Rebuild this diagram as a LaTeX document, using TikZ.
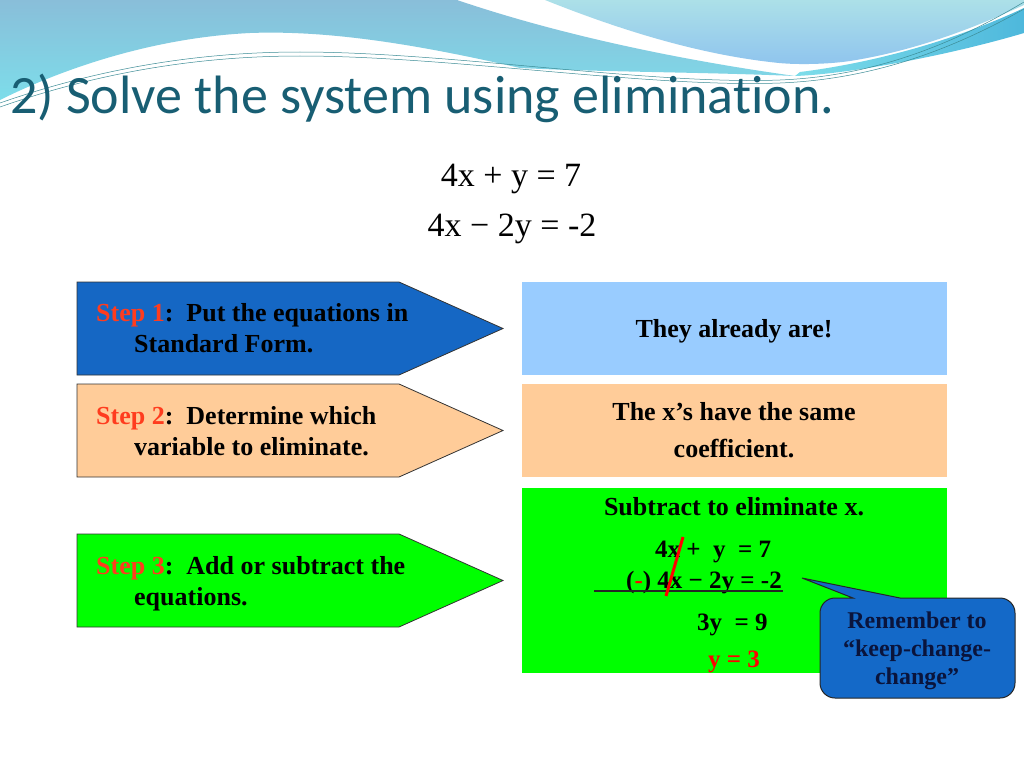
\documentclass[tikz,border=0pt]{standalone}
\usepackage{fontspec}
\setmainfont{Liberation Serif}
\newfontfamily\titlefont{Carlito}[Ligatures=NoCommon]
\definecolor{bgtop}{RGB}{137,190,217}
\definecolor{bgbot}{RGB}{125,221,234}
\definecolor{rtop}{RGB}{172,224,232}
\definecolor{rbot}{RGB}{143,196,238}
\definecolor{ribbonA}{RGB}{125,221,234}
\definecolor{ribbonB}{RGB}{78,184,220}
\definecolor{thinln}{RGB}{60,140,150}
\definecolor{titlecol}{RGB}{24,94,115}
\definecolor{stepblue}{RGB}{21,103,196}
\definecolor{peach}{RGB}{255,204,153}
\definecolor{lightblue}{RGB}{153,204,255}
\definecolor{brightgreen}{RGB}{0,255,0}
\definecolor{stepred}{RGB}{255,60,30}
\definecolor{callblue}{RGB}{20,105,200}
\definecolor{calltext}{RGB}{10,20,60}
\begin{document}
\begin{tikzpicture}[x=1pt,y=-1pt,
  stepshape/.style={draw=black!80, line width=0.8pt},
  steptext/.style={anchor=base west, inner sep=0pt, font=\fontsize{26}{30}\selectfont\bfseries},
  boxtext/.style={anchor=base, inner sep=0pt, font=\fontsize{26}{30}\selectfont\bfseries},
  eqtext/.style={anchor=base west, inner sep=0pt, font=\fontsize{25}{30}\selectfont\bfseries},
  calltxt/.style={anchor=base, inner sep=0pt, text=calltext, font=\fontsize{24}{28}\selectfont\bfseries},
  thinline/.style={draw=thinln, line width=0.5pt}]
\useasboundingbox (0,0) rectangle (1024,768);
\fill[white] (0,0) rectangle (1024,768);
% background swooshes
\shade[top color=bgtop, bottom color=bgbot] (0,0) -- (457,0) .. controls (560,35) and (680,60) .. (795,76) .. controls (700,72) and (600,72) .. (520,68) .. controls (420,45) and (330,30) .. (250,33) .. controls (150,38) and (60,70) .. (0,100) -- cycle;
\shade[top color=rtop, bottom color=rbot] (545,0) .. controls (620,30) and (700,55) .. (779,63) .. controls (800,65) and (830,64) .. (850,61) .. controls (920,50) and (980,25) .. (1024,5) -- (1024,0) -- cycle;
\shade[left color=ribbonA, right color=ribbonB] (795,76) .. controls (850,74) and (950,55) .. (1024,33) -- (1024,8) .. controls (960,38) and (880,62) .. (800,72) -- cycle;
\draw[thinline] (0,103) .. controls (80,75) and (180,52) .. (300,52) .. controls (450,52) and (650,85) .. (780,80) .. controls (880,76) and (960,40) .. (1024,2);
\draw[thinline] (0,107) .. controls (80,79) and (180,56) .. (300,56) .. controls (450,56) and (650,88) .. (780,83) .. controls (880,79) and (960,45) .. (1024,9);
% title
\node[anchor=base west, inner sep=0pt, text=titlecol, font=\titlefont\fontsize{54}{60}\selectfont] (title) at (10,113) {2) Solve the system using elimination.};
% system
\node[anchor=base, inner sep=0pt, font=\fontsize{34}{40}\selectfont] (eq1) at (511,186) {4x + y = 7};
\node[anchor=base, inner sep=0pt, font=\fontsize{34}{40}\selectfont] (eq2) at (512,236) {4x − 2y = -2};
% step arrows
\path[stepshape, fill=stepblue] (77,282) -- (399,282) -- (503,328.5) -- (399,375) -- (77,375) -- cycle;
\path[stepshape, fill=peach] (77,384) -- (399,384) -- (503,430.5) -- (399,477) -- (77,477) -- cycle;
\path[stepshape, fill=brightgreen] (77,534) -- (399,534) -- (503,580.5) -- (399,627) -- (77,627) -- cycle;
\node[steptext] (s1a) at (96,321) {\textcolor{stepred}{Step 1}:\ \ Put the equations in};
\node[steptext] (s1b) at (134,352) {Standard Form.};
\node[steptext] (s2a) at (96,424) {\textcolor{stepred}{Step 2}:\ \ Determine which};
\node[steptext] (s2b) at (134,455) {variable to eliminate.};
\node[steptext] (s3a) at (96,574) {\textcolor{stepred}{Step 3}:\ \ Add or subtract the};
\node[steptext] (s3b) at (134,605) {equations.};
% right boxes
\fill[lightblue] (522,282) rectangle (947,375);
\fill[peach] (522,384) rectangle (947,477);
\fill[brightgreen] (522,488) rectangle (947,673);
\node[boxtext] (r1) at (734,337) {They already are!};
\node[boxtext] (r2a) at (734,420) {The x’s have the same};
\node[boxtext] (r2b) at (734,457) {coefficient.};
\node[boxtext] (r3) at (734,515) {Subtract to eliminate x.};
\node[eqtext] (w1) at (655,557) {4x +\ \ y\ \ = 7};
\node[eqtext] (w2) at (626,588) {(\textcolor{red}{-}) 4x − 2y = -2};
\draw[black!85, line width=1.2pt] (594,591) -- (783,591);
\node[eqtext] (w3) at (697,630) {3y\ \ = 9};
\node[eqtext, text=red] (w4) at (708,667) {y = 3};
\draw[red, line width=3pt] (683,537) -- (666,596);
% callout
\draw[fill=callblue, draw=black!85, line width=1pt] (853,598) -- (802,578) -- (900,598) [rounded corners=15pt] -- (1015,598) -- (1015,698) -- (820,698) -- (820,598) [sharp corners] -- cycle;
\node[calltxt] (c1) at (917,628) {Remember to};
\node[calltxt] (c2) at (917,656) {“keep-change-};
\node[calltxt] (c3) at (917,684) {change”};
\end{tikzpicture}
\end{document}
